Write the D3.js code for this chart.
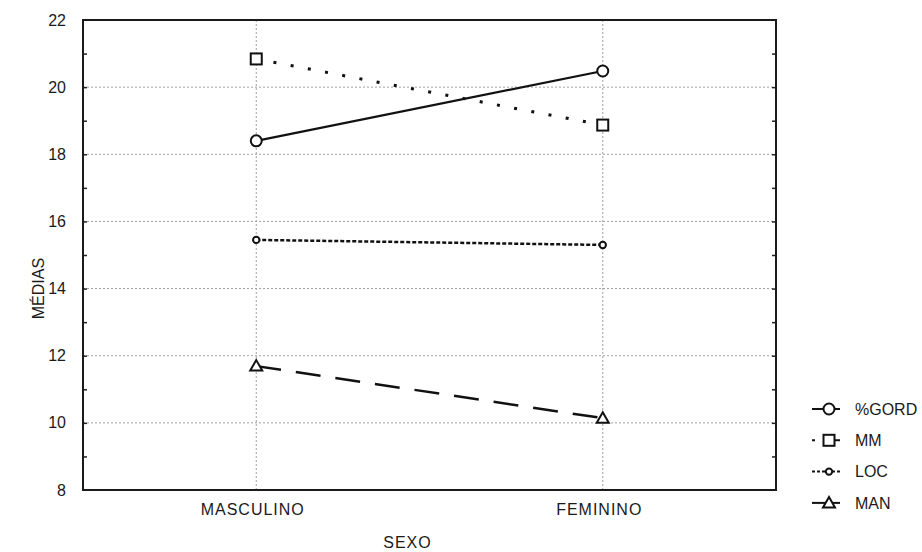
<!DOCTYPE html>
<html>
<head>
<meta charset="utf-8">
<script src="https://cdn.jsdelivr.net/npm/d3@7"></script>
<style>
  body { margin: 0; background: #fff; }
  text { font-family: "Liberation Sans", Arial, sans-serif; fill: #1a1a1a; }
</style>
</head>
<body>
<div id="chart"></div>
<script>
// Data
const categories = ['MASCULINO', 'FEMININO'];
const seriesNames = ['%GORD', 'MM', 'LOC', 'MAN'];
const gordValues = [18.40, 20.48];
const mmValues = [20.84, 18.87];
const locValues = [15.45, 15.30];
const manValues = [11.69, 10.14];
const yTicks = [8, 10, 12, 14, 16, 18, 20, 22];

const series = [
  { name: seriesNames[0], values: gordValues, dash: null, width: 2.2, marker: 'circle', legendDash: null },
  { name: seriesNames[1], values: mmValues, dash: '3,14.5', width: 3, marker: 'square', legendDash: '3,8,30' },
  { name: seriesNames[2], values: locValues, dash: '4,2', width: 2.5, marker: 'diamond', legendDash: '3,2' },
  { name: seriesNames[3], values: manValues, dash: '25,15', width: 2.5, marker: 'triangle', legendDash: null }
];

const W = 922, H = 552;
const margin = { top: 20, right: 146, bottom: 62, left: 83 };
const width = W - margin.left - margin.right;
const height = H - margin.top - margin.bottom;

const svg = d3.select('#chart').append('svg')
  .attr('width', W)
  .attr('height', H);

const chart = svg.append('g')
  .attr('transform', `translate(${margin.left},${margin.top})`);

const x = d3.scalePoint().domain(categories).range([0, width]).padding(0.5);
const y = d3.scaleLinear().domain([8, 22]).range([height, 0]);

// grid
chart.append('g').selectAll('line')
  .data(yTicks.filter(d => d > 8 && d < 22))
  .join('line')
  .attr('x1', 0).attr('x2', width)
  .attr('y1', d => y(d)).attr('y2', d => y(d))
  .attr('stroke', '#a0a0a0').attr('stroke-width', 1).attr('stroke-dasharray', '2,2');

chart.append('g').selectAll('line')
  .data(categories)
  .join('line')
  .attr('x1', d => x(d)).attr('x2', d => x(d))
  .attr('y1', 0).attr('y2', height)
  .attr('stroke', '#a0a0a0').attr('stroke-width', 1).attr('stroke-dasharray', '2,2');

// axes
const minor = d3.range(9, 22, 1);
chart.append('g')
  .call(d3.axisLeft(y).tickValues(yTicks).tickSize(0).tickPadding(17).tickFormat(d3.format('d')))
  .call(g => g.select('.domain').remove())
  .call(g => g.selectAll('text').attr('font-size', 16).style('font-family', '"Liberation Sans", Arial, sans-serif'));

chart.append('g')
  .call(d3.axisRight(y).tickValues(minor).tickSize(4).tickFormat(''))
  .call(g => g.select('.domain').remove())
  .call(g => g.selectAll('line').attr('stroke', '#222').attr('stroke-width', 1.5));

chart.append('g')
  .attr('transform', `translate(${width},0)`)
  .call(d3.axisLeft(y).tickValues(minor).tickSize(4).tickFormat(''))
  .call(g => g.select('.domain').remove())
  .call(g => g.selectAll('line').attr('stroke', '#222').attr('stroke-width', 1.5));

chart.append('g')
  .attr('transform', `translate(0,${height})`)
  .call(d3.axisBottom(x).tickSize(0).tickPadding(14))
  .call(g => g.select('.domain').remove())
  .call(g => g.selectAll('text')
    .attr('font-size', 16)
    .attr('dx', -4)
    .style('letter-spacing', '1px')
    .style('font-family', '"Liberation Sans", Arial, sans-serif'));

// frame
chart.append('rect')
  .attr('width', width).attr('height', height)
  .attr('fill', 'none').attr('stroke', '#1a1a1a').attr('stroke-width', 2);

// axis titles
svg.append('text')
  .attr('x', margin.left + width / 2 - 22)
  .attr('y', H - 4)
  .attr('text-anchor', 'middle')
  .attr('font-size', 16)
  .style('letter-spacing', '1px')
  .text('SEXO');

svg.append('text')
  .attr('transform', `translate(44,${margin.top + y(14)}) rotate(-90)`)
  .attr('text-anchor', 'middle')
  .attr('font-size', 16)
  .text('MÉDIAS');

// markers
function drawMarker(g, type, cx, cy) {
  let m;
  if (type === 'circle') {
    m = g.append('circle').attr('cx', cx).attr('cy', cy).attr('r', 5.5);
  } else if (type === 'square') {
    m = g.append('rect').attr('x', cx - 5.5).attr('y', cy - 5.5).attr('width', 11).attr('height', 11);
  } else if (type === 'diamond') {
    m = g.append('circle').attr('cx', cx).attr('cy', cy).attr('r', 3.2);
  } else {
    m = g.append('path').attr('d', `M${cx},${cy - 6}L${cx + 6},${cy + 4.5}L${cx - 6},${cy + 4.5}Z`);
  }
  m.attr('fill', '#fff').attr('stroke', '#111').attr('stroke-width', 2);
}

const line = d3.line()
  .x((d, i) => x(categories[i]))
  .y(d => y(d));

series.forEach(s => {
  const g = chart.append('g');
  const path = g.append('path')
    .attr('d', line(s.values))
    .attr('fill', 'none')
    .attr('stroke', '#111')
    .attr('stroke-width', s.width);
  if (s.dash) path.attr('stroke-dasharray', s.dash);
  s.values.forEach((v, i) => drawMarker(g, s.marker, x(categories[i]), y(v)));
});

// legend
const legend = svg.append('g').attr('transform', 'translate(812,409)');
series.forEach((s, i) => {
  const g = legend.append('g').attr('transform', `translate(0,${i * 31.3})`);
  const l = g.append('line')
    .attr('x1', 0).attr('x2', 28).attr('y1', 0).attr('y2', 0)
    .attr('stroke', '#111').attr('stroke-width', 2);
  if (s.legendDash) l.attr('stroke-dasharray', s.legendDash);
  drawMarker(g, s.marker, 17, 0);
  g.append('text')
    .attr('x', 43).attr('y', 0).attr('dy', '0.36em')
    .attr('font-size', 16)
    .text(s.name);
});
</script>
</body>
</html>
